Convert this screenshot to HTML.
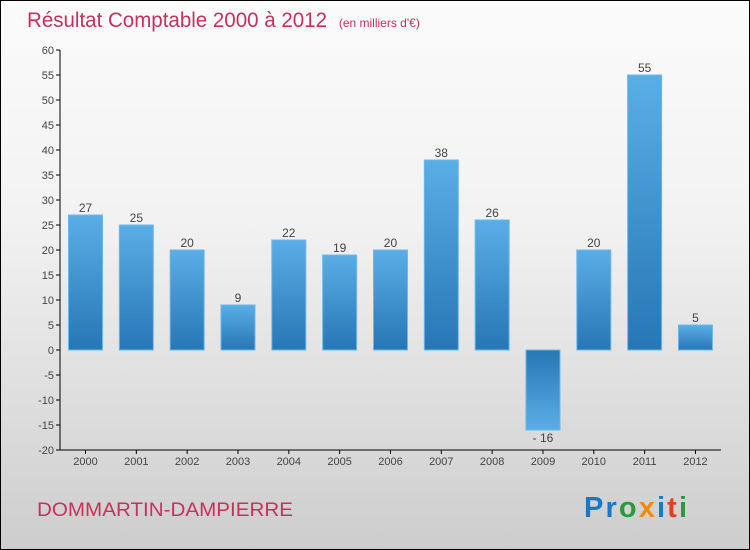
<!DOCTYPE html>
<html><head><meta charset="utf-8"><style>
body{margin:0;}
#c{width:748px;height:548px;border:1px solid #000;position:relative;background:linear-gradient(#fbfbfb,#f2f2f2 40%,#cdcdcd);font-family:"Liberation Sans",sans-serif;overflow:hidden}
</style></head><body>
<div id="c">
<svg id="s" width="748" height="548">
<defs>
<linearGradient id="gp" x1="0" y1="0" x2="0" y2="1"><stop offset="0" stop-color="#5aaee6"/><stop offset="1" stop-color="#2677b5"/></linearGradient>
<linearGradient id="gn" x1="0" y1="0" x2="0" y2="1"><stop offset="0" stop-color="#2677b5"/><stop offset="1" stop-color="#5aaee6"/></linearGradient>
</defs>
<text x="26" y="26" font-size="21" fill="#c8305e"><tspan textLength="300" lengthAdjust="spacingAndGlyphs">Résultat Comptable 2000 à 2012</tspan> <tspan font-size="12" dx="6">(en milliers d'€)</tspan></text>
<text x="36" y="515" font-size="19" fill="#c8305e" textLength="256" lengthAdjust="spacingAndGlyphs">DOMMARTIN-DAMPIERRE</text>
<text x="583" y="516" font-size="29" font-weight="bold" textLength="103" lengthAdjust="spacing"><tspan fill="#1a78c8">Pr</tspan><tspan fill="#2a9a3a">o</tspan><tspan fill="#f08a10">x</tspan><tspan fill="#1a78c8">i</tspan><tspan fill="#e04020">t</tspan><tspan fill="#2a9a3a">i</tspan></text>
<g id="g"></g>
</svg>
</div>
<script>
const categories=["2000","2001","2002","2003","2004","2005","2006","2007","2008","2009","2010","2011","2012"];
const values=[27,25,20,9,22,19,20,38,26,-16,20,55,5];
const yTicks=[60,55,50,45,40,35,30,25,20,15,10,5,0,-5,-10,-15,-20];
const NS="http://www.w3.org/2000/svg";
const g=document.getElementById('g');
const y=v=>349+(0-v)*5;
const x=i=>84.5+i*50.83;
function mk(t,a,txt){const e=document.createElementNS(NS,t);for(const k in a)e.setAttribute(k,a[k]);if(txt!==undefined)e.textContent=txt;g.appendChild(e);return e;}
let ax=mk('line',{x1:59,y1:y(60),x2:59,y2:y(-20),stroke:'#000'});


let bx=mk('line',{x1:59,y1:y(-20),x2:720,y2:y(-20),stroke:'#000'});


yTicks.forEach(v=>{
 mk('line',{x1:55,y1:y(v),x2:59,y2:y(v),stroke:'#000'});
 let t=mk('text',{x:53,y:y(v)+4,'font-size':11,fill:'#444','text-anchor':'end'},String(v));
 
 
});
categories.forEach((c,i)=>{
 const v=values[i];
 const top=Math.min(y(v),y(0)),h=Math.abs(y(v)-y(0));
 let r=mk('rect',{x:x(i)-17,y:top,width:34,height:h,fill:v>=0?'url(#gp)':'url(#gn)',stroke:'#6bb8ec','stroke-width':1});
 
 
 let lb=mk('text',{x:x(i),y:v>=0?y(v)-3:y(v)+12,'font-size':12,fill:'#444','text-anchor':'middle'},v<0?'- '+Math.abs(v):String(v));
 
 
 mk('line',{x1:x(i),y1:y(-20),x2:x(i),y2:y(-20)+4,stroke:'#000'});
 let xl=mk('text',{x:x(i),y:y(-20)+15,'font-size':11,fill:'#444','text-anchor':'middle'},c);
 
 
});
</script>
</body></html>
